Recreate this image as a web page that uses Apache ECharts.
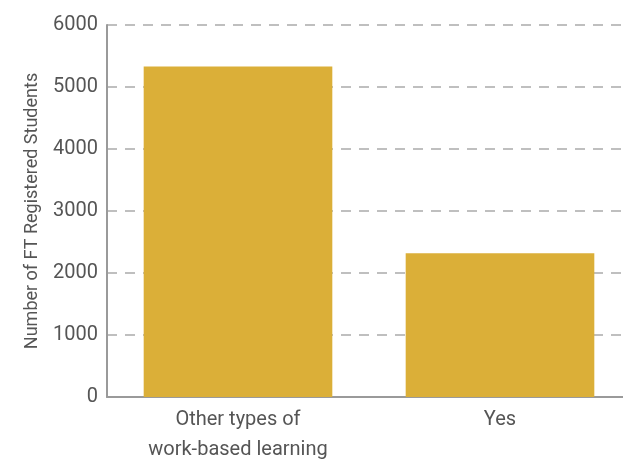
<!DOCTYPE html>
<html>
<head>
<meta charset="utf-8">
<script src="https://cdn.jsdelivr.net/npm/echarts@6/dist/echarts.min.js"></script>
<style>
  html, body { margin: 0; padding: 0; background: #fff; }
  #chart { width: 623px; height: 460px; }
</style>
</head>
<body>
<div id="chart"></div>
<script>
// Full-time registered students by work-based learning type
const categories = ['Other types of\nwork-based learning', 'Yes'];
const students = [5330, 2320];
const yTicks = [0, 1000, 2000, 3000, 4000, 5000, 6000];

const FONT = '"Roboto", "Noto Sans", sans-serif';
const chart = echarts.init(document.getElementById('chart'));

chart.setOption({
  animation: false,
  grid: { left: 107, right: -8, top: 25, bottom: 63, containLabel: false, outerBoundsMode: 'none' },
  xAxis: {
    type: 'category',
    data: categories,
    axisLine: { lineStyle: { color: '#9a9a9a', width: 2 } },
    axisTick: { show: false },
    axisLabel: { color: '#555', fontSize: 20, fontFamily: FONT, lineHeight: 30, margin: 8 }
  },
  yAxis: {
    type: 'value',
    min: yTicks[0],
    max: yTicks[yTicks.length - 1],
    interval: 1000,
    name: 'Number of FT Registered Students',
    nameLocation: 'middle',
    nameGap: 66,
    nameTextStyle: { color: '#555', fontSize: 18, fontFamily: FONT },
    axisLine: { show: true, lineStyle: { color: '#9a9a9a', width: 2 } },
    axisTick: { show: false },
    axisLabel: {
      color: '#555', fontSize: 20, fontFamily: FONT, margin: 9,
      formatter: (v) => String(v)
    },
    splitLine: { lineStyle: { color: '#aaa', type: [10, 8], width: 1.5 } }
  },
  series: [{
    type: 'bar',
    data: students,
    barCategoryGap: '28%',
    itemStyle: { color: '#DBAF38' }
  }]
});
</script>
</body>
</html>
